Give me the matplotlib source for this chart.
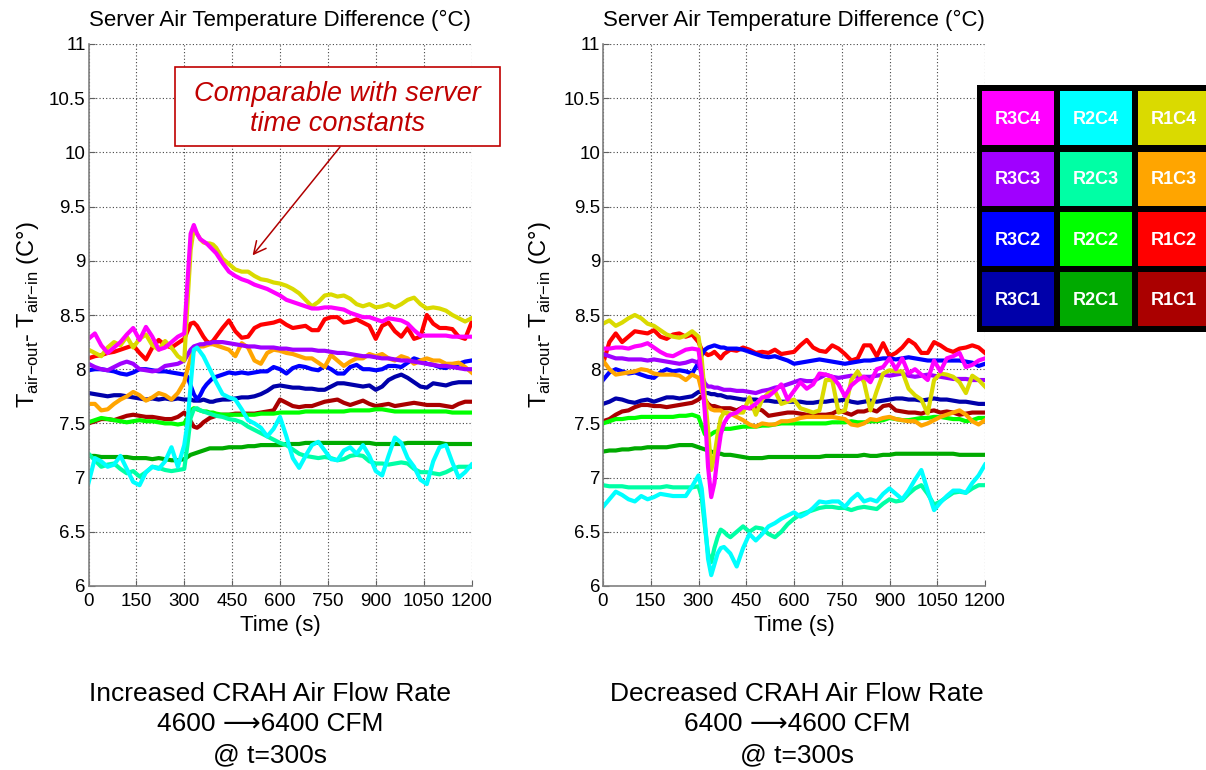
import matplotlib
matplotlib.use("Agg")
import matplotlib.pyplot as plt
from matplotlib.patches import Rectangle

plt.rcParams['font.family'] = ['Liberation Sans', 'DejaVu Sans']
plt.rcParams['mathtext.fontset'] = 'custom'
plt.rcParams['mathtext.rm'] = 'Liberation Sans'

# sample times (s): 20 s steps, 10 s steps around the flow change at t=300
time_s = list(range(0, 300, 20)) + list(range(300, 400, 10)) + list(range(400, 1201, 20))

# ---- increased CRAH air flow (4600 -> 6400 CFM) ----
inc_R1C1 = [7.5, 7.52, 7.54, 7.54, 7.53, 7.55, 7.57, 7.58, 7.57, 7.56, 7.56, 7.55, 7.54, 7.54, 7.56,
            7.6, 7.57, 7.52, 7.47, 7.46, 7.48, 7.51, 7.53, 7.55, 7.56,
            7.57, 7.58, 7.58, 7.59, 7.59, 7.59, 7.59, 7.6, 7.61, 7.62, 7.72, 7.69, 7.66, 7.65, 7.66, 7.66, 7.68, 7.7, 7.71, 7.72,
            7.69, 7.67, 7.69, 7.71, 7.68, 7.66, 7.67, 7.68, 7.66, 7.67, 7.68, 7.69, 7.68, 7.67, 7.67, 7.67, 7.66, 7.65, 7.68, 7.7, 7.7]
inc_R2C1 = [7.2, 7.2, 7.19, 7.19, 7.19, 7.19, 7.19, 7.18, 7.18, 7.18, 7.17, 7.18, 7.17, 7.16, 7.16,
            7.17, 7.19, 7.21, 7.22, 7.23, 7.24, 7.25, 7.26, 7.27, 7.27,
            7.27, 7.27, 7.28, 7.28, 7.28, 7.29, 7.29, 7.3, 7.3, 7.3, 7.3, 7.31, 7.31, 7.31, 7.32, 7.32, 7.32, 7.32, 7.32, 7.32,
            7.32, 7.32, 7.32, 7.32, 7.32, 7.31, 7.31, 7.31, 7.31, 7.31, 7.32, 7.32, 7.32, 7.32, 7.32, 7.32, 7.31, 7.31, 7.31, 7.31, 7.31]
inc_R3C1 = [7.78, 7.77, 7.76, 7.75, 7.76, 7.76, 7.75, 7.74, 7.73, 7.72, 7.73, 7.72, 7.73, 7.72, 7.73,
            7.72, 7.72, 7.72, 7.71, 7.71, 7.71, 7.72, 7.71, 7.7, 7.7,
            7.71, 7.72, 7.72, 7.73, 7.74, 7.74, 7.75, 7.77, 7.8, 7.84, 7.85, 7.84, 7.83, 7.83, 7.82, 7.82, 7.81, 7.81, 7.84, 7.87,
            7.87, 7.86, 7.85, 7.84, 7.85, 7.81, 7.84, 7.9, 7.93, 7.95, 7.92, 7.88, 7.84, 7.83, 7.87, 7.86, 7.85, 7.87, 7.88, 7.88, 7.88]
inc_R1C2 = [8.1, 8.12, 8.13, 8.15, 8.16, 8.18, 8.2, 8.22, 8.15, 8.09, 8.2, 8.27, 8.22, 8.2, 8.24,
            8.28, 8.35, 8.42, 8.43, 8.4, 8.35, 8.3, 8.26, 8.24, 8.26,
            8.3, 8.38, 8.45, 8.35, 8.29, 8.3, 8.38, 8.41, 8.42, 8.43, 8.45, 8.41, 8.38, 8.39, 8.4, 8.36, 8.36, 8.46, 8.48, 8.48,
            8.43, 8.44, 8.46, 8.43, 8.4, 8.28, 8.4, 8.43, 8.35, 8.3, 8.38, 8.28, 8.3, 8.5, 8.42, 8.38, 8.38, 8.37, 8.3, 8.28, 8.43]
inc_R2C2 = [7.51, 7.53, 7.55, 7.54, 7.53, 7.52, 7.51, 7.52, 7.53, 7.52, 7.52, 7.51, 7.5, 7.5, 7.49,
            7.5, 7.55, 7.62, 7.64, 7.63, 7.62, 7.61, 7.61, 7.6, 7.6,
            7.59, 7.58, 7.58, 7.58, 7.58, 7.58, 7.58, 7.59, 7.59, 7.59, 7.6, 7.6, 7.6, 7.6, 7.61, 7.61, 7.61, 7.61, 7.61, 7.61,
            7.61, 7.62, 7.62, 7.62, 7.62, 7.63, 7.63, 7.62, 7.61, 7.61, 7.61, 7.61, 7.61, 7.61, 7.61, 7.61, 7.61, 7.6, 7.6, 7.6, 7.6]
inc_R3C2 = [7.99, 8.0, 8.0, 7.99, 7.98, 7.96, 7.95, 7.97, 8.0, 8.0, 7.99, 7.98, 7.98, 7.97, 7.96,
            7.95, 7.93, 7.85, 7.77, 7.72, 7.76, 7.82, 7.86, 7.89, 7.92,
            7.93, 7.95, 7.97, 7.96, 7.97, 7.96, 7.97, 7.98, 7.98, 8.02, 8.0, 7.96, 8.01, 8.03, 8.02, 8.0, 7.99, 8.03, 8.0, 7.96,
            7.96, 8.02, 8.04, 8.0, 8.0, 7.99, 8.0, 8.03, 8.03, 8.02, 8.06, 8.1, 8.08, 8.05, 8.04, 8.02, 8.01, 8.04, 8.05, 8.07, 8.08]
inc_R1C3 = [7.68, 7.68, 7.62, 7.63, 7.68, 7.72, 7.75, 7.79, 7.76, 7.71, 7.74, 7.78, 7.76, 7.72, 7.78,
            7.88, 8.0, 8.1, 8.17, 8.2, 8.21, 8.21, 8.22, 8.23, 8.23,
            8.22, 8.2, 8.18, 8.12, 8.24, 8.2, 8.08, 8.05, 8.15, 8.18, 8.17, 8.15, 8.14, 8.12, 8.1, 8.1, 8.06, 8.02, 8.13, 8.08,
            8.03, 8.07, 8.1, 8.1, 8.14, 8.12, 8.14, 8.1, 8.08, 8.12, 8.1, 8.05, 8.08, 8.1, 8.08, 8.08, 8.05, 8.05, 8.06, 8.02, 7.97]
inc_R2C3 = [7.22, 7.16, 7.1, 7.12, 7.13, 7.08, 7.04, 7.06, 7.01, 7.05, 7.1, 7.09, 7.07, 7.06, 7.07,
            7.08, 7.3, 7.55, 7.63, 7.64, 7.62, 7.61, 7.6, 7.59, 7.58,
            7.57, 7.56, 7.54, 7.53, 7.51, 7.47, 7.44, 7.41, 7.38, 7.35, 7.32, 7.3, 7.26, 7.22, 7.2, 7.19, 7.18, 7.19, 7.18, 7.16,
            7.17, 7.2, 7.21, 7.2, 7.15, 7.13, 7.13, 7.12, 7.13, 7.14, 7.13, 7.08, 7.05, 7.05, 7.04, 7.03, 7.05, 7.08, 7.1, 7.1, 7.1]
inc_R3C3 = [8.05, 8.02, 8.0, 7.99, 8.02, 8.05, 8.07, 8.05, 8.0, 7.99, 7.98, 7.99, 8.03, 8.04, 8.05,
            8.08, 8.13, 8.18, 8.21, 8.22, 8.23, 8.23, 8.24, 8.24, 8.25,
            8.25, 8.25, 8.24, 8.23, 8.22, 8.21, 8.21, 8.2, 8.2, 8.2, 8.19, 8.19, 8.18, 8.18, 8.18, 8.18, 8.17, 8.17, 8.16, 8.15,
            8.15, 8.14, 8.13, 8.12, 8.12, 8.11, 8.1, 8.1, 8.09, 8.08, 8.08, 8.07, 8.06, 8.05, 8.04, 8.03, 8.03, 8.02, 8.01, 8.0, 8.0]
inc_R1C4 = [8.18, 8.15, 8.12, 8.2, 8.25, 8.22, 8.3, 8.2, 8.28, 8.32, 8.22, 8.18, 8.26, 8.2, 8.12,
            8.08, 8.6, 9.1, 9.3, 9.25, 9.2, 9.17, 9.16, 9.16, 9.15,
            9.12, 9.02, 8.97, 8.92, 8.9, 8.9, 8.86, 8.83, 8.82, 8.8, 8.79, 8.77, 8.74, 8.7, 8.64, 8.58, 8.62, 8.68, 8.69, 8.67,
            8.68, 8.65, 8.6, 8.58, 8.6, 8.57, 8.58, 8.6, 8.57, 8.6, 8.64, 8.66, 8.6, 8.56, 8.57, 8.56, 8.54, 8.5, 8.47, 8.44, 8.47]
inc_R2C4 = [6.95, 7.18, 7.15, 7.1, 7.12, 7.2, 7.08, 6.96, 6.93, 7.05, 7.1, 7.08, 7.15, 7.28, 7.1,
            7.3, 7.5, 7.85, 8.18, 8.2, 8.16, 8.12, 8.06, 8.0, 7.94,
            7.88, 7.77, 7.74, 7.72, 7.63, 7.53, 7.5, 7.46, 7.38, 7.45, 7.56, 7.38, 7.18, 7.09, 7.2, 7.3, 7.33, 7.25, 7.17, 7.16,
            7.25, 7.28, 7.22, 7.3, 7.2, 7.06, 7.02, 7.2, 7.37, 7.32, 7.18, 7.1, 6.98, 6.94, 7.15, 7.28, 7.3, 7.14, 7.0, 7.05, 7.12]
inc_R3C4 = [8.28, 8.33, 8.22, 8.15, 8.2, 8.25, 8.32, 8.38, 8.27, 8.39, 8.3, 8.18, 8.2, 8.25, 8.3,
            8.33, 8.8, 9.25, 9.33, 9.25, 9.2, 9.18, 9.16, 9.13, 9.1,
            9.07, 8.98, 8.9, 8.86, 8.83, 8.81, 8.78, 8.76, 8.74, 8.71, 8.68, 8.64, 8.62, 8.6, 8.58, 8.56, 8.56, 8.57, 8.57, 8.56,
            8.55, 8.52, 8.5, 8.48, 8.48, 8.46, 8.44, 8.47, 8.46, 8.45, 8.42, 8.36, 8.31, 8.31, 8.31, 8.31, 8.31, 8.3, 8.3, 8.3, 8.3]

# ---- decreased CRAH air flow (6400 -> 4600 CFM) ----
dec_R1C1 = [7.52, 7.54, 7.58, 7.61, 7.62, 7.65, 7.67, 7.67, 7.66, 7.66, 7.65, 7.66, 7.67, 7.68, 7.69,
            7.72, 7.75, 7.72, 7.68, 7.66, 7.66, 7.65, 7.64, 7.64, 7.64,
            7.64, 7.62, 7.65, 7.64, 7.64, 7.62, 7.57, 7.58, 7.59, 7.6, 7.6, 7.59, 7.58, 7.58, 7.58, 7.58, 7.59, 7.62, 7.6, 7.58,
            7.61, 7.61, 7.63, 7.61, 7.66, 7.67, 7.62, 7.61, 7.6, 7.6, 7.59, 7.61, 7.62, 7.6, 7.61, 7.6, 7.58, 7.59, 7.6, 7.6, 7.6]
dec_R2C1 = [7.24, 7.25, 7.25, 7.26, 7.26, 7.27, 7.27, 7.28, 7.28, 7.28, 7.28, 7.29, 7.3, 7.3, 7.3,
            7.28, 7.27, 7.26, 7.25, 7.24, 7.23, 7.22, 7.22, 7.21, 7.21,
            7.21, 7.2, 7.19, 7.18, 7.18, 7.18, 7.19, 7.19, 7.19, 7.19, 7.19, 7.19, 7.19, 7.19, 7.19, 7.2, 7.2, 7.2, 7.2, 7.2,
            7.2, 7.21, 7.2, 7.2, 7.21, 7.21, 7.22, 7.22, 7.22, 7.22, 7.22, 7.22, 7.22, 7.22, 7.22, 7.22, 7.21, 7.21, 7.21, 7.21, 7.21]
dec_R3C1 = [7.68, 7.7, 7.73, 7.72, 7.7, 7.69, 7.71, 7.72, 7.7, 7.72, 7.74, 7.74, 7.73, 7.74, 7.75,
            7.79, 7.79, 7.78, 7.78, 7.77, 7.77, 7.76, 7.76, 7.75, 7.74,
            7.74, 7.73, 7.72, 7.72, 7.72, 7.71, 7.71, 7.7, 7.7, 7.7, 7.7, 7.7, 7.69, 7.69, 7.7, 7.7, 7.71, 7.71, 7.72, 7.7,
            7.69, 7.7, 7.71, 7.7, 7.71, 7.72, 7.73, 7.73, 7.72, 7.72, 7.71, 7.72, 7.73, 7.72, 7.72, 7.71, 7.7, 7.7, 7.69, 7.68, 7.68]
dec_R1C2 = [8.05, 8.25, 8.33, 8.25, 8.3, 8.35, 8.34, 8.33, 8.36, 8.3, 8.28, 8.32, 8.33, 8.3, 8.32,
            8.25, 8.18, 8.15, 8.13, 8.14, 8.16, 8.13, 8.1, 8.14, 8.16,
            8.18, 8.17, 8.2, 8.18, 8.15, 8.16, 8.15, 8.18, 8.14, 8.15, 8.16, 8.22, 8.27, 8.2, 8.17, 8.16, 8.22, 8.19, 8.14, 8.08,
            8.1, 8.22, 8.22, 8.12, 8.24, 8.12, 8.15, 8.2, 8.27, 8.23, 8.15, 8.15, 8.25, 8.22, 8.18, 8.16, 8.19, 8.2, 8.22, 8.2, 8.15]
dec_R2C2 = [7.5, 7.52, 7.54, 7.54, 7.55, 7.55, 7.56, 7.56, 7.56, 7.56, 7.56, 7.56, 7.57, 7.57, 7.58,
            7.56, 7.48, 7.4, 7.38, 7.4, 7.42, 7.43, 7.44, 7.45, 7.45,
            7.45, 7.46, 7.47, 7.47, 7.47, 7.48, 7.48, 7.49, 7.5, 7.5, 7.5, 7.5, 7.5, 7.5, 7.5, 7.5, 7.51, 7.51, 7.51, 7.52,
            7.51, 7.51, 7.52, 7.52, 7.53, 7.55, 7.54, 7.53, 7.53, 7.54, 7.55, 7.55, 7.56, 7.56, 7.55, 7.54, 7.54, 7.52, 7.53, 7.55, 7.55]
dec_R3C2 = [7.9, 7.97, 8.0, 7.98, 7.96, 7.97, 7.95, 7.93, 7.92, 7.97, 8.0, 7.98, 7.99, 7.98, 7.96,
            8.06, 8.13, 8.18, 8.2, 8.21, 8.22, 8.21, 8.2, 8.2, 8.19,
            8.19, 8.19, 8.18, 8.16, 8.14, 8.12, 8.11, 8.12, 8.1, 8.08, 8.05, 8.06, 8.07, 8.08, 8.09, 8.08, 8.07, 8.06, 8.05, 8.06,
            8.07, 8.08, 8.08, 8.09, 8.1, 8.1, 8.09, 8.1, 8.11, 8.1, 8.09, 8.08, 8.08, 8.08, 8.08, 8.08, 8.08, 8.07, 8.06, 8.03, 8.05]
dec_R1C3 = [8.08, 8.0, 7.95, 7.96, 7.97, 7.98, 8.0, 7.99, 7.96, 7.95, 7.95, 7.95, 7.94, 7.9, 7.95,
            7.92, 7.8, 7.73, 7.66, 7.63, 7.62, 7.62, 7.62, 7.6, 7.59,
            7.59, 7.56, 7.53, 7.49, 7.47, 7.5, 7.49, 7.49, 7.52, 7.52, 7.53, 7.55, 7.56, 7.56, 7.56, 7.56, 7.56, 7.55, 7.54, 7.49,
            7.48, 7.5, 7.54, 7.53, 7.55, 7.56, 7.54, 7.53, 7.52, 7.52, 7.48, 7.5, 7.53, 7.56, 7.58, 7.6, 7.62, 7.58, 7.52, 7.49, 7.53]
dec_R2C3 = [6.93, 6.92, 6.92, 6.92, 6.91, 6.91, 6.91, 6.91, 6.91, 6.91, 6.92, 6.91, 6.91, 6.91, 6.91,
            6.92, 6.82, 6.55, 6.3, 6.22, 6.35, 6.45, 6.52, 6.5, 6.47,
            6.45, 6.5, 6.55, 6.5, 6.54, 6.53, 6.48, 6.45, 6.5, 6.57, 6.62, 6.66, 6.68, 6.7, 6.72, 6.73, 6.73, 6.72, 6.72, 6.7,
            6.72, 6.73, 6.72, 6.71, 6.76, 6.8, 6.78, 6.79, 6.85, 6.9, 6.93, 6.85, 6.75, 6.78, 6.82, 6.86, 6.87, 6.86, 6.9, 6.93, 6.93]
dec_R3C3 = [8.14, 8.12, 8.1, 8.1, 8.09, 8.09, 8.09, 8.08, 8.09, 8.08, 8.07, 8.06, 8.05, 8.06, 8.08,
            8.06, 7.95, 7.87, 7.84, 7.84, 7.83, 7.83, 7.82, 7.81, 7.81,
            7.81, 7.8, 7.8, 7.79, 7.78, 7.8, 7.81, 7.83, 7.84, 7.86, 7.88, 7.9, 7.89, 7.89, 7.92, 7.95, 7.93, 7.92, 7.93, 7.94,
            7.93, 7.93, 7.93, 7.94, 7.95, 7.94, 7.95, 7.96, 7.94, 7.93, 7.94, 7.95, 7.94, 7.93, 7.92, 7.91, 7.91, 7.91, 7.9, 7.9, 7.9]
dec_R1C4 = [8.42, 8.45, 8.4, 8.43, 8.47, 8.5, 8.47, 8.42, 8.4, 8.36, 8.32, 8.3, 8.29, 8.31, 8.35,
            8.3, 8.1, 7.75, 7.45, 7.07, 7.2, 7.4, 7.55, 7.6, 7.6,
            7.58, 7.6, 7.6, 7.74, 7.58, 7.72, 7.78, 7.8, 7.68, 7.7, 7.72, 7.64, 7.62, 7.6, 7.62, 7.9, 7.9, 7.6, 7.62, 7.9,
            7.98, 7.88, 7.62, 7.8, 7.96, 7.99, 7.98, 7.98, 7.82, 7.76, 7.72, 7.59, 7.9, 7.96, 7.95, 7.93, 7.88, 7.78, 7.94, 7.9, 7.84]
dec_R2C4 = [6.73, 6.8, 6.87, 6.84, 6.8, 6.78, 6.83, 6.8, 6.82, 6.85, 6.84, 6.83, 6.83, 6.83, 6.92,
            7.02, 6.9, 6.6, 6.25, 6.1, 6.2, 6.3, 6.35, 6.36, 6.33,
            6.3, 6.18, 6.35, 6.48, 6.42, 6.48, 6.55, 6.58, 6.62, 6.65, 6.68, 6.64, 6.67, 6.72, 6.78, 6.77, 6.78, 6.78, 6.73, 6.8,
            6.85, 6.78, 6.8, 6.78, 6.85, 6.9, 6.85, 6.8, 6.88, 6.98, 7.07, 6.88, 6.7, 6.77, 6.83, 6.88, 6.88, 6.86, 6.95, 7.02, 7.12]
dec_R3C4 = [8.19, 8.19, 8.2, 8.2, 8.19, 8.21, 8.22, 8.24, 8.2, 8.16, 8.13, 8.12, 8.15, 8.18, 8.19,
            8.18, 7.95, 7.6, 7.1, 6.82, 6.95, 7.2, 7.4, 7.5, 7.55,
            7.58, 7.6, 7.65, 7.64, 7.68, 7.74, 7.75, 7.8, 7.86, 7.72, 7.8, 7.88, 7.82, 7.86, 7.96, 7.95, 7.93, 7.86, 7.75, 7.85,
            7.9, 7.93, 7.88, 8.0, 8.02, 8.1, 8.0, 8.1, 7.96, 8.0, 7.95, 7.9, 8.08, 7.98, 8.1, 8.12, 8.15, 8.02, 8.04, 8.08, 8.1]

sensor_names = ['R1C1', 'R2C1', 'R3C1', 'R1C2', 'R2C2', 'R3C2',
                'R1C3', 'R2C3', 'R3C3', 'R1C4', 'R2C4', 'R3C4']
sensor_colors = ['#AA0000', '#00AA00', '#0000AA', '#FF0000', '#00FF00', '#0000FF',
                 '#FFA500', '#00FFA5', '#A000FF', '#DADA00', '#00FFFF', '#FF00FF']
inc_series = [inc_R1C1, inc_R2C1, inc_R3C1, inc_R1C2, inc_R2C2, inc_R3C2,
              inc_R1C3, inc_R2C3, inc_R3C3, inc_R1C4, inc_R2C4, inc_R3C4]
dec_series = [dec_R1C1, dec_R2C1, dec_R3C1, dec_R1C2, dec_R2C2, dec_R3C2,
              dec_R1C3, dec_R2C3, dec_R3C3, dec_R1C4, dec_R2C4, dec_R3C4]

x_ticks = [0, 150, 300, 450, 600, 750, 900, 1050, 1200]
y_ticks = [6, 6.5, 7, 7.5, 8, 8.5, 9, 9.5, 10, 10.5, 11]
y_tick_labels = ['6', '6.5', '7', '7.5', '8', '8.5', '9', '9.5', '10', '10.5', '11']

panel_title = 'Server Air Temperature Difference (\u00b0C)'
y_label = r'T$_{\mathregular{air{-}out}}$- T$_{\mathregular{air{-}in}}$ (C' + '\u00b0)'
inc_caption = 'Increased CRAH Air Flow Rate\n4600 \u27f66400 CFM\n@ t=300s'
dec_caption = 'Decreased CRAH Air Flow Rate\n6400 \u27f64600 CFM\n@ t=300s'

W, H = 1206, 770
fig = plt.figure(figsize=(W / 100, H / 100), dpi=100)


def px_box(x0, y0, x1, y1):
    """Pixel box (top-left origin) -> figure fraction [left, bottom, width, height]."""
    return [x0 / W, 1 - y1 / H, (x1 - x0) / W, (y1 - y0) / H]


def setup_axes(ax, label_x):
    ax.set_xlim(0, 1200)
    ax.set_ylim(6, 11)
    ax.set_xticks(x_ticks)
    ax.set_yticks(y_ticks)
    ax.set_yticklabels(y_tick_labels)
    ax.tick_params(direction='in', length=4, labelsize=13.5, pad=2, color='#606060')
    ax.tick_params(axis='x', pad=5)
    ax.grid(True, color='#444444', linestyle=(0, (1, 2)), linewidth=0.8)
    ax.set_axisbelow(True)
    for side in ('top', 'right'):
        ax.spines[side].set_visible(False)
    for side in ('left', 'bottom'):
        ax.spines[side].set_color('#808080')
        ax.spines[side].set_linewidth(1.2)
    ax.set_xlabel('Time (s)', fontsize=16, labelpad=4)
    ax.set_ylabel(y_label, fontsize=17)
    ax.yaxis.set_label_coords(label_x, 0.5)
    mid = ax.get_position()
    fig.text(mid.x0 + mid.width / 2, 1 - 20 / H, panel_title,
             ha='center', va='center', fontsize=16)


ax_inc = fig.add_axes(px_box(88.5, 44, 471.5, 586))
ax_dec = fig.add_axes(px_box(603, 44, 985, 586))

for ax, series in ((ax_inc, inc_series), (ax_dec, dec_series)):
    for vals, col in zip(series, sensor_colors):
        ax.plot(time_s, vals, color=col, linewidth=3.0, solid_joinstyle='round')

setup_axes(ax_inc, -0.125)
setup_axes(ax_dec, -0.132)

# callout on the left panel
box = px_box(175, 67, 500, 146)
fig.add_artist(Rectangle((box[0], box[1]), box[2], box[3], transform=fig.transFigure,
                         facecolor='white', edgecolor='#C00000', linewidth=1.2, zorder=5))
fig.text(box[0] + box[2] / 2, 1 - 109 / H, 'Comparable with server\ntime constants',
         ha='center', va='center', fontsize=19.5, style='italic', color='#C00000',
         linespacing=1.2, zorder=6)
ax_inc.annotate('', xy=(514, 9.05), xycoords='data',
                xytext=(340 / W, 1 - 147 / H), textcoords='figure fraction',
                arrowprops=dict(arrowstyle='->', color='#B00000', lw=1.1,
                                mutation_scale=22, shrinkA=0, shrinkB=0))

# sensor colour key: columns R3/R2/R1, rows C4..C1
key = fig.add_axes(px_box(977, 85, 1212, 332))
key.set_xlim(977, 1212)
key.set_ylim(332, 85)
key.axis('off')
key.add_patch(Rectangle((977, 85), 235, 247, facecolor='black', edgecolor='none'))
for r, c in enumerate(['C4', 'C3', 'C2', 'C1']):
    for k, rack in enumerate(['R3', 'R2', 'R1']):
        name = rack + c
        x0 = 982 + k * 78
        y0 = 91.5 + r * 60.3
        key.add_patch(Rectangle((x0, y0), 72, 54,
                                facecolor=sensor_colors[sensor_names.index(name)],
                                edgecolor='none'))
        key.text(x0 + 36, y0 + 28, name, ha='center', va='center',
                 color='white', fontsize=13, fontweight='bold')

# captions under each panel
fig.text(270 / W, 1 - 682 / H, inc_caption, ha='center', va='top', fontsize=19, linespacing=1.34)
fig.text(797 / W, 1 - 682 / H, dec_caption, ha='center', va='top', fontsize=19, linespacing=1.34)

fig.savefig('out.png', dpi=100)
